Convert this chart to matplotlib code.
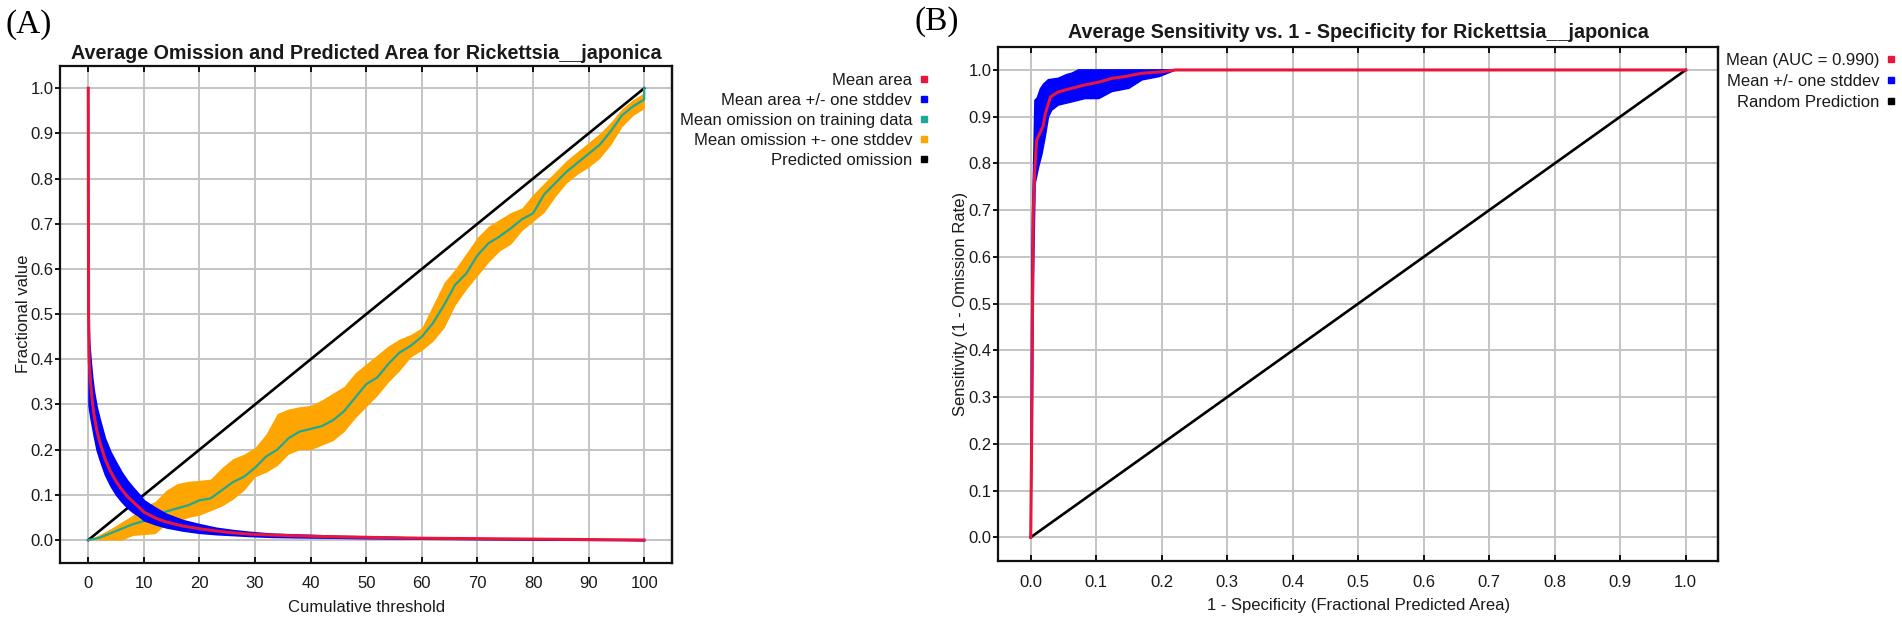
import numpy as np
import matplotlib
matplotlib.use("Agg")
import matplotlib.pyplot as plt
from matplotlib.lines import Line2D

plt.rcParams['font.family'] = ['Liberation Sans', 'DejaVu Sans']

# ---------------- panel A: omission and predicted area ----------------
area_x = [0, 0.05, 0.15, 0.4, 0.7, 1, 1.5, 2, 3, 4, 5, 6, 7, 8, 9, 10, 12, 14, 17, 20,
          23, 26, 29, 33, 38, 45, 50, 60, 70, 80, 90, 100]
area_mean = [1.0, 0.5, 0.40, 0.35, 0.31, 0.28, 0.245, 0.22, 0.18, 0.152, 0.13, 0.112,
             0.097, 0.085, 0.074, 0.062, 0.049, 0.04, 0.031, 0.025, 0.02, 0.016, 0.013,
             0.011, 0.009, 0.007, 0.006, 0.004, 0.003, 0.002, 0.001, 0.0]

band_x = [0.05, 0.15, 0.4, 0.7, 1, 1.5, 2, 3, 4, 5, 6, 7, 8, 9, 10, 12, 14, 17, 20, 23,
          26, 29, 33, 38, 45, 50, 60, 70, 80, 90, 100]
area_upper = [0.48, 0.44, 0.40, 0.36, 0.33, 0.295, 0.27, 0.225, 0.195, 0.172, 0.15, 0.132,
              0.117, 0.103, 0.088, 0.072, 0.058, 0.044, 0.035, 0.027, 0.022, 0.018, 0.014,
              0.012, 0.009, 0.008, 0.005, 0.004, 0.003, 0.002, 0.0]
area_lower = [0.30, 0.29, 0.27, 0.25, 0.23, 0.20, 0.18, 0.145, 0.12, 0.10, 0.085, 0.072,
              0.062, 0.054, 0.044, 0.035, 0.028, 0.021, 0.016, 0.013, 0.011, 0.009, 0.007,
              0.006, 0.005, 0.004, 0.003, 0.002, 0.001, 0.0005, 0.0]

om_x = [0, 2, 4, 6, 8, 10, 12, 14, 16, 18, 20, 22, 24, 26, 28, 30, 32, 34, 36, 38, 40,
        42, 44, 46, 48, 50, 52, 54, 56, 58, 60, 62, 64, 66, 68, 70, 72, 74, 76, 78, 80,
        82, 84, 86, 88, 90, 92, 94, 96, 98, 100, 100]
om_mean = [0.0, 0.005, 0.015, 0.025, 0.035, 0.042, 0.05, 0.063, 0.07, 0.077, 0.088, 0.092,
           0.11, 0.128, 0.14, 0.16, 0.185, 0.2, 0.225, 0.24, 0.246, 0.252, 0.265, 0.285,
           0.315, 0.345, 0.36, 0.39, 0.415, 0.43, 0.45, 0.48, 0.52, 0.565, 0.59, 0.63,
           0.657, 0.672, 0.69, 0.71, 0.723, 0.765, 0.79, 0.815, 0.835, 0.855, 0.875, 0.905,
           0.94, 0.96, 0.975, 1.0]
om_upper = [0.0, 0.012, 0.025, 0.04, 0.055, 0.075, 0.085, 0.11, 0.125, 0.13, 0.132, 0.135,
            0.16, 0.18, 0.19, 0.205, 0.235, 0.28, 0.29, 0.295, 0.298, 0.31, 0.325, 0.34,
            0.37, 0.39, 0.41, 0.43, 0.445, 0.455, 0.47, 0.52, 0.57, 0.60, 0.635, 0.67,
            0.695, 0.71, 0.725, 0.735, 0.765, 0.79, 0.815, 0.84, 0.86, 0.88, 0.9, 0.925,
            0.955, 0.975, 0.99, 1.0]
om_lower = [0.0, 0.0, 0.0, 0.0, 0.01, 0.012, 0.014, 0.035, 0.04, 0.05, 0.055, 0.065, 0.075,
            0.09, 0.11, 0.14, 0.15, 0.165, 0.19, 0.2, 0.2, 0.21, 0.22, 0.24, 0.27, 0.295,
            0.32, 0.35, 0.375, 0.405, 0.42, 0.44, 0.47, 0.52, 0.555, 0.585, 0.615, 0.64,
            0.655, 0.685, 0.705, 0.725, 0.76, 0.79, 0.81, 0.825, 0.845, 0.875, 0.915, 0.94,
            0.955, 1.0]

pred_x = [0, 100]
pred_y = [0.0, 1.0]

legend_a = ['Mean area', 'Mean area +/- one stddev', 'Mean omission on training data',
            'Mean omission +- one stddev', 'Predicted omission']

# ---------------- panel B: ROC ----------------
roc_x = [0, 0.002, 0.003, 0.004, 0.006, 0.009, 0.014, 0.019, 0.022, 0.03, 0.042, 0.063,
         0.083, 0.104, 0.124, 0.144, 0.17, 0.2, 0.221, 1.0]
roc_mean = [0.0, 0.3, 0.55, 0.7, 0.78, 0.85, 0.865, 0.88, 0.905, 0.942, 0.953, 0.961,
            0.968, 0.974, 0.982, 0.986, 0.993, 0.996, 1.0, 1.0]

roc_up_x = [0, 0.001, 0.002, 0.003, 0.005, 0.0065, 0.01, 0.015, 0.02, 0.027, 0.042, 0.055,
            0.063, 0.073, 1.0]
roc_upper = [0.0, 0.35, 0.6, 0.7, 0.83, 0.935, 0.94, 0.96, 0.97, 0.979, 0.982, 0.99, 0.993,
             1.0, 1.0]
roc_lo_x = [0, 0.002, 0.004, 0.0066, 0.012, 0.017, 0.022, 0.027, 0.032, 0.042, 0.063, 0.083,
            0.104, 0.124, 0.15, 0.17, 0.196, 0.221, 1.0]
roc_lower = [0.0, 0.25, 0.55, 0.757, 0.793, 0.82, 0.857, 0.9, 0.914, 0.925, 0.932, 0.939,
             0.939, 0.954, 0.961, 0.979, 0.986, 1.0, 1.0]

rand_x = [0.0, 1.0]
rand_y = [0.0, 1.0]

auc = 0.990
legend_b = ['Mean (AUC = %.3f)' % auc, 'Mean +/- one stddev', 'Random Prediction']

RED = '#e8153c'
BLUE = '#0000ff'
TEAL = '#1fa898'
ORANGE = '#ffa500'
GRID = '#c4c4c4'
TXT = '#1a1a1a'
FS = 12
TITLE_FS = 14.2


def style_axes(ax, xticks, xfmt):
    ax.set_axisbelow(True)
    ax.grid(True, color=GRID, linewidth=1.4)
    for sp in ax.spines.values():
        sp.set_linewidth(1.6)
        sp.set_color('#111111')
    ax.set_xticks(xticks)
    ax.set_xticklabels([xfmt % t for t in xticks])
    yt = np.round(np.arange(0, 1.01, 0.1), 1)
    ax.set_yticks(yt)
    ax.set_yticklabels(['%.1f' % t for t in yt])
    ax.set_ylim(-0.05, 1.05)
    # bottom/top ticks point inwards, left ticks outwards, right ticks inwards
    ax.tick_params(axis='x', direction='in', top=True, length=4.5, width=1.3,
                   pad=10, labelsize=FS, labelcolor=TXT)
    ax.tick_params(axis='y', direction='out', length=3.6, width=1.3, pad=1.2,
                   labelsize=FS, labelcolor=TXT)
    sec = ax.secondary_yaxis('right')
    sec.set_yticks(yt)
    sec.set_yticklabels([])
    sec.tick_params(direction='in', length=4.5, width=1.3)
    sec.spines['right'].set_linewidth(1.6)


fig = plt.figure(figsize=(19.02, 6.22), dpi=100)

# ---- (A)
ax1 = fig.add_axes([0.0318, 0.0955, 0.3215, 0.7989])
ax1.plot(pred_x, pred_y, color='black', lw=1.9, zorder=2)
ax1.fill_between(om_x, om_lower, om_upper, color=ORANGE, lw=0, zorder=3)
ax1.plot(om_x, om_mean, color=TEAL, lw=1.6, zorder=4)
ax1.fill_between(band_x, area_lower, area_upper, color=BLUE, lw=1.2, edgecolor=BLUE, zorder=5)
ax1.plot(area_x, area_mean, color=RED, lw=2.2, zorder=6)
ax1.set_xlim(-5, 105)
style_axes(ax1, list(range(0, 101, 10)), '%d')
ax1.set_title('Average Omission and Predicted Area for Rickettsia__japonica',
              fontsize=TITLE_FS, fontweight='bold', pad=5, color=TXT)
ax1.set_xlabel('Cumulative threshold', fontsize=FS, labelpad=6, color=TXT)
ax1.set_ylabel('Fractional value', fontsize=FS, labelpad=0, color=TXT)

handles_a = [Line2D([], [], ls='', marker='s', markersize=5, color=c)
             for c in [RED, BLUE, TEAL, ORANGE, 'black']]
fig.legend(handles_a, legend_a, loc='upper right', bbox_to_anchor=(928 / 1902, 1 - 73 / 622),
           frameon=False, markerfirst=False, fontsize=FS, handlelength=0.5,
           handletextpad=0.45, labelspacing=0.3, borderpad=0, borderaxespad=0,
           labelcolor=TXT)

# ---- (B)
ax2 = fig.add_axes([0.5247, 0.0986, 0.3788, 0.8265])
ax2.plot(rand_x, rand_y, color='black', lw=1.9, zorder=2)
poly_x = roc_up_x + roc_lo_x[::-1]
poly_y = roc_upper + roc_lower[::-1]
ax2.fill(poly_x, poly_y, color=BLUE, lw=1.2, edgecolor=BLUE, zorder=5)
ax2.plot(roc_x, roc_mean, color=RED, lw=2.2, zorder=6)
ax2.set_xlim(-0.05, 1.05)
style_axes(ax2, list(np.round(np.arange(0, 1.01, 0.1), 1)), '%.1f')
ax2.set_title('Average Sensitivity vs. 1 - Specificity for Rickettsia__japonica',
              fontsize=TITLE_FS, fontweight='bold', pad=6, color=TXT)
ax2.set_xlabel('1 - Specificity (Fractional Predicted Area)', fontsize=FS, labelpad=6,
               color=TXT)
ax2.set_ylabel('Sensitivity (1 - Omission Rate)', fontsize=FS, labelpad=0, color=TXT)

handles_b = [Line2D([], [], ls='', marker='s', markersize=5, color=c)
             for c in [RED, BLUE, 'black']]
fig.legend(handles_b, legend_b, loc='upper right', bbox_to_anchor=(1895 / 1902, 1 - 53 / 622),
           frameon=False, markerfirst=False, fontsize=FS, handlelength=0.5,
           handletextpad=0.45, labelspacing=0.35, borderpad=0, borderaxespad=0,
           labelcolor=TXT)

fig.text(0.003, 0.985, '(A)', fontsize=24, family='Liberation Serif', va='top', ha='left')
fig.text(0.481, 0.99, '(B)', fontsize=24, family='Liberation Serif', va='top', ha='left')

fig.savefig('out.png', dpi=100)
